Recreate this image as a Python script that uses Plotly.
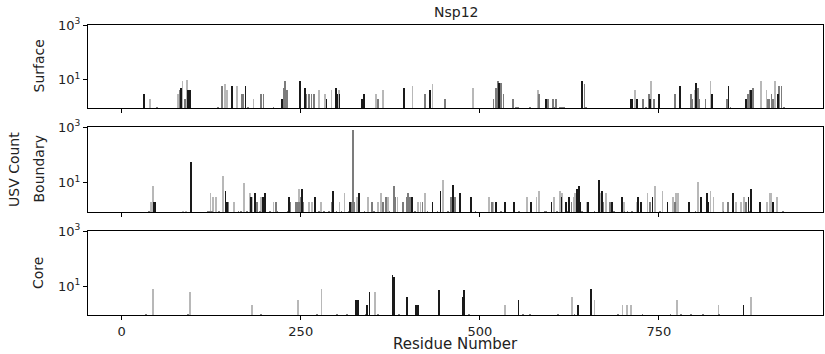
import plotly.graph_objects as go

# ---- data: (residue, USV count) ----
surface_light = [(40,2),(85,9),(91,10),(79,3),(144,7),(147,4),(161,6),(184,2),(276,4),(284,3),(293,4),
                 (303,4),(355,3),(365,4),(406,6),(434,7),(490,5),(581,4),(739,8.5),(822,9),(892,8.5),
                 (900,4),(912,9),(717,4),(800,4)]
surface_mid = [(81,4),(88,2),(140,6),(168,3),(170,3),(194,3),(198,3),(226,5),(228,8.5),(231,4),(258,3),
               (261,3),(265,3),(269,3),(358,2),(423,3),(451,2),(519,2),(522,5),(525,8.5),(529,7.5),(533,3),
               (546,2),(583,3),(595,2),(602,2),(606,2),(646,7),(728,2),(736,3),(743,2),(772,3),(795,3),
               (796,2),(804,5),(806,2),(815,2),(845,2),(874,3),(877,4),(881,5),(902,2),(904,2),(907,3),
               (909,2),(918,6),(921,6),
               (49,1),(135,1),(176,1),(212,1),(550,1),(553,1),(570,1),(605,1),(612,1),(615,1),(618,1),
               (648,1),(732,1),(850,1),(925,1)]
surface_dark = [(31,3),(83,5),(93,4),(95,4),(154,6),(173,6),(224,2),(249,8.5),(256,5),(286,2),(299,5),
                (301,3),(304,3),(338,3),(336,2),(394,5),(430,4),(527,7.7),(592,2),(643,8.5),(711,2),
                (713,2),(719,2),(737,2),(750,3),(779,6),(802,7.5),(824,3),(847,6),(872,2),(879,4),(916,3)]

boundary_light = [(41,2),(44,7.5),(86,1),(90,1),(124,4.3),(128,3.2),(132,3.2),(141,17.6),(157,2),(171,10),
                  (179,4.3),(182,3.2),(195,3.2),(212,2),(248,6),(262,2),(266,2),(278,2),(279,2),(304,2),
                  (311,4.3),(328,3.2),(344,3.2),(358,2),(362,4.3),(372,3.2),(385,3.2),(414,2),(417,2),
                  (423,4.3),(449,13),(513,3.2),(519,2),(566,3.2),(579,3.2),(583,5.2),(603,3.2),(612,5.2),
                  (615,4.3),(631,3.2),(633,4.3),(649,2),(668,4.3),(676,4.3),(701,2),(719,2),(734,4.3),
                  (744,7.5),(755,5.2),(770,3.2),(774,4.3),(777,4.3),(804,11),(822,5.2),(826,3.2),(839,2),
                  (858,2),(864,2),(869,3.2),(901,2),(905,4.3),(907,4.3),(915,3.2)]
boundary_mid = [(149,2),(189,2),(215,2),(235,2),(243,2),(245,2),(247,2),(250,3.2),(253,2),(293,2),(320,2),
                (323,800),(324,2),(349,2),(365,2),(369,3.2),(380,7.5),(382,3.2),(393,2),(398,3.2),(400,4.3),
                (403,3),(420,2),(460,3.2),(465,3.2),(517,2),(628,2),(672,2),(682,2),(737,2),(772,2),
                (846,2),(872,2),
                (38,1),(120,1),(123,1),(126,1),(136,1),(163,1),(167,1),(175,1),(193,1),(207,1),(217,1),
                (232,1),(275,1),(282,1),(289,1),(300,1),(307,1),(317,1),(339,1),(352,1),(374,1),(410,1),
                (427,1),(441,1),(455,1),(459,1),(494,1),(530,1),(555,1),(591,1),(593,1),(608,1),(623,1),
                (643,1),(660,1),(687,1),(702,1),(706,1),(712,1),(751,1),(801,1),(840,1),(876,1),(923,1)]
boundary_dark = [(45,2),(47,2),(97,54),(145,5.2),(147,2),(180,3.2),(186,4.3),(197,3.2),(200,4.3),(234,3.2),
                 (252,6),(270,3),(295,5.2),(319,2),(331,4.3),(405,3.2),(434,2),(445,5.2),(463,8.3),(472,4.3),
                 (488,3.2),(523,2),(535,2),(548,2),(571,2),(600,2),(614,3.2),(620,2),(624,3.2),(636,6),
                 (638,7.5),(640,2),(651,2),(666,13),(670,5.2),(684,2),(698,3.2),(721,3.2),(725,2),(741,3.2),
                 (762,2),(792,2),(809,3.2),(817,4.3),(819,2),(853,4.3),(875,3.2),(878,6),(891,2),(909,2)]

core_light = [(44,8.2),(95,6.2),(182,2),(246,3.1),(279,8.2),(354,6.2),(535,2),(629,4),(660,3.1),(699,2),
              (705,2),(711,2),(775,3.1),(833,2),(879,4)]
core_mid = [(34,1),(93,1),(195,1),(273,1),(301,1),(315,1),(341,1),(358,1),(387,1),(485,1),(560,1),(570,1),
            (609,1),(632,1),(693,1),(727,1),(766,1),(781,1),(795,1),(812,1),(834,1)]
core_dark = [(327,3.1),(330,3.1),(343,2),(346,6.2),(378,25),(380,22),(398,4),(411,2),(414,2),(443,7.1),
             (476,4),(478,7.1),(554,3.1),(637,2),(655,8.2),(868,2)]

panel_names = ["Surface", "Boundary", "Core"]
panels = [(surface_light, surface_mid, surface_dark),
          (boundary_light, boundary_mid, boundary_dark),
          (core_light, core_mid, core_dark)]
x_ticks = [0, 250, 500, 750]
y_ticks = [10, 1000]
y_ticktext = ["10<sup>1</sup>", "10<sup>3</sup>"]
title = "Nsp12"
x_label = "Residue Number"
y_label = "USV Count"

# ---- figure ----
FONT = "DejaVu Sans"
shades = ["#b8b8b8", "#7c7c7c", "#1a1a1a"]
fig = go.Figure()
W, H = 825, 354
ml, mr, mt, mb = 88, 2, 25, 39
ph = H - mt - mb
pix = [(25, 108), (127, 212), (231, 315)]
for i, (series, name) in enumerate(zip(panels, panel_names)):
    n = "" if i == 0 else str(i + 1)
    for data, col in zip(series, shades):
        fig.add_trace(go.Bar(x=[d[0] for d in data], y=[d[1] for d in data], width=1.1,
                             marker=dict(color=col, line=dict(width=0)),
                             xaxis="x" + n, yaxis="y" + n, showlegend=False))
    top, bot = pix[i]
    dom = [(H - mb - bot) / ph, (H - mb - top) / ph]
    fig.layout["xaxis" + n] = dict(domain=[0, 1], range=[-47, 979], anchor="y" + n, automargin=False,
                                   tickvals=x_ticks, showticklabels=(i == 2), ticks="outside",
                                   ticklen=4, tickcolor="black", showline=True, linecolor="black",
                                   linewidth=1, mirror=True, showgrid=False, zeroline=False,
                                   tickfont=dict(family=FONT, size=13, color="#222"))
    fig.layout["yaxis" + n] = dict(domain=dom, type="log", range=[-0.046, 3], anchor="x" + n,
                                   automargin=False,
                                   tickvals=y_ticks, ticktext=y_ticktext, ticks="outside",
                                   ticklen=4, tickcolor="black", showline=True, linecolor="black",
                                   linewidth=1, mirror=True, showgrid=False, zeroline=False,
                                   tickfont=dict(family=FONT, size=13, color="#222"))
    fig.add_annotation(text=name, xref="paper", yref="paper", x=0, xshift=-50,
                       y=(dom[0] + dom[1]) / 2, textangle=-90, showarrow=False,
                       xanchor="center", yanchor="middle",
                       font=dict(family=FONT, size=14, color="#222"))

fig.add_annotation(text=y_label, xref="paper", yref="paper", x=0, xshift=-74, y=0.5,
                   textangle=-90, showarrow=False, xanchor="center", yanchor="middle",
                   font=dict(family=FONT, size=14, color="#222"))
fig.add_annotation(text=title, xref="paper", yref="paper", x=0.5, y=1, yshift=13, showarrow=False,
                   xanchor="center", yanchor="middle", font=dict(family=FONT, size=14, color="#222"))
fig.add_annotation(text=x_label, xref="paper", yref="paper", x=0.5, y=0, yshift=-29, showarrow=False,
                   xanchor="center", yanchor="middle", font=dict(family=FONT, size=15, color="#222"))

fig.update_layout(width=W, height=H, margin=dict(l=ml, r=mr, t=mt, b=mb, autoexpand=False),
                  barmode="overlay", plot_bgcolor="white", paper_bgcolor="white", bargap=0)
fig.write_html("out.html", config={"responsive": False, "displayModeBar": False})

with open("out.html", "r", encoding="utf-8") as f:
    html = f.read()
html = html.replace("<head>", "<head><style>html,body{margin:0;padding:0;overflow:hidden}</style>", 1)
with open("out.html", "w", encoding="utf-8") as f:
    f.write(html)
